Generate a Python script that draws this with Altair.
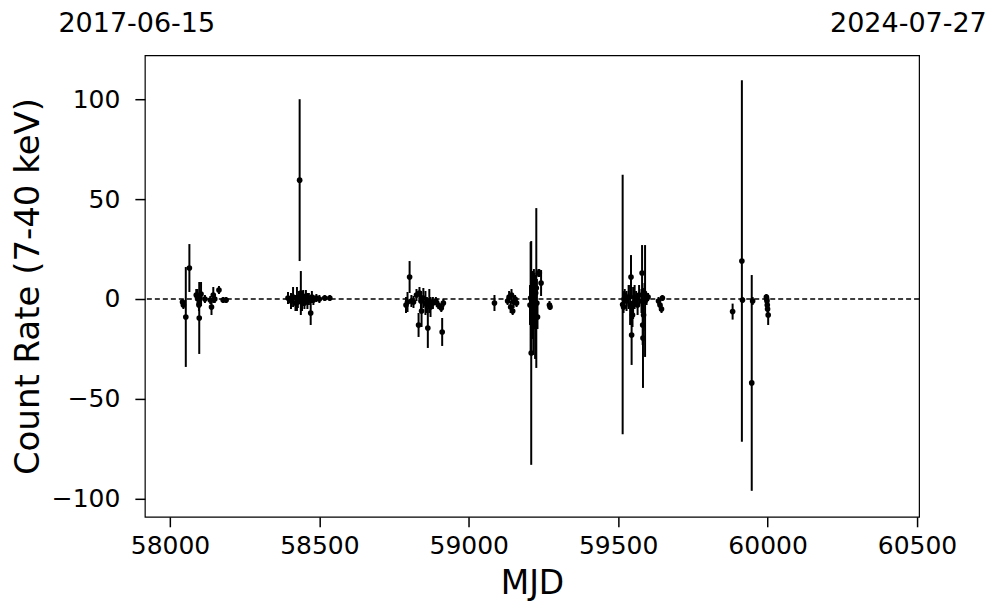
import altair as alt
import pandas as pd

# ---- data ----
mjd = [
    58042, 58045, 58053, 58065, 58088, 58092, 58097, 58098, 58100, 58104, 58117, 58135, 58139, 58145, 58150, 58164, 58178, 58188,
    58395, 58405, 58412, 58420, 58425, 58428, 58432, 58434, 58438, 58442, 58446, 58450, 58455, 58460, 58465, 58471, 58475, 58480, 58490, 58500, 58518, 58535,
    58790, 58795, 58802, 58808, 58815, 58825, 58832, 58835, 58840, 58842, 58848, 58855, 58860, 58863, 58868, 58872, 58880, 58890, 58898, 58908, 58911, 58915,
    59086, 59130, 59135, 59140, 59143, 59147, 59150, 59155, 59160,
    59205, 59207, 59209, 59212, 59214, 59216, 59218, 59220, 59222, 59224, 59226, 59228, 59230, 59233, 59236, 59242, 59270, 59272,
    59515, 59518, 59520, 59522, 59528, 59535, 59540, 59543, 59545, 59548, 59550, 59555, 59560, 59565, 59570, 59578, 59580, 59582, 59583, 59585, 59588, 59590, 59595, 59600, 59635, 59640, 59645, 59648,
    59883, 59914, 59916, 59947, 59950, 59996, 59997, 59998, 59999, 60000, 60002,
]
rate = [
    -1.5, -3, -9, 15.5, 2, 1, -3, -9.5, 0.5, 2.5, 0, -0.5, -4, 2, 0, 4.5, -0.5, -0.5,
    0.5, -1, 1, -2, 0, -1.5, 1, 59.5, 3, -1, 0.5, -2, 1.5, -1, 0, -7, 1, -0.5, 0.5, 0, 0.5, 0.5,
    -3, -1.5, 11, -1, -1.5, 2, -13, 3, -1, -6, 0.5, -2, -3, -14.5, -1, -4, -2, -1, -3, -4.5, -16.5, -2,
    -2, -1, 1, -4, 2, -6, -1.5, 0, -2,
    -3, 0.5, -27, 2, -5, -8, 5, -1, -12, 3, 5.5, -2, -9, 13, 13, 8, -3, -4,
    -2.75, -4, 0, 2, -1, 1, -3, 11, -18, -8, -2, 1, 0, -3, 2, -1, 13, -13, -19.5, -8, 3, -1, 0, 1, -1, -3, -5, 0.5,
    -6.3, 19, -0.5, -42, -1, 1, 0, -1, -3, -5, -8,
]
err = [
    1.5, 2, 25, 12, 3, 4, 3, 18, 2, 6, 2, 2, 4, 4, 2, 2, 1.5, 1.5,
    3, 4, 5, 4, 6, 3, 3, 40.5, 11, 5, 4, 3, 3, 4, 3, 6, 3, 2.5, 2, 2, 1.5, 1.5,
    4, 5, 8, 3, 3, 3, 6, 3, 5, 8, 5, 6, 4, 10, 6, 5, 3, 2, 2, 2, 7, 2,
    4, 2, 3, 3, 3, 2, 3, 2, 2,
    10, 28, 56, 12, 15, 20, 10, 14, 18, 9, 40, 12, 6, 2, 2, 6.5, 2, 1.5,
    65, 3, 4, 3, 5, 6, 10, 11, 15, 6, 8, 6, 4, 5, 5, 6, 14, 10, 25, 8, 5, 28, 3, 2, 2, 3, 2, 1.5,
    4, 90.5, 1.5, 54, 2, 1.5, 1.5, 2, 2, 2.5, 5,
]
x_ticks = [58000, 58500, 59000, 59500, 60000, 60500]
y_ticks = [-100, -50, 0, 50, 100]
date_labels = ["2017-06-15", "2024-07-27"]
date_mjd = [57919, 60518]
date_dx = [-9, -14]

df = pd.DataFrame({"mjd": mjd, "rate": rate, "err": err})
df["lo"] = df["rate"] - df["err"]
df["hi"] = df["rate"] + df["err"]

FONT = "DejaVu Sans"
xscale = alt.Scale(domain=[57916, 60507], nice=False, zero=False)
yscale = alt.Scale(domain=[-109, 122], nice=False, zero=False)

xaxis = alt.Axis(values=x_ticks, format="d", title="MJD", grid=False)
yaxis = alt.Axis(values=y_ticks, title="Count Rate (7-40 keV)", grid=False)

base = alt.Chart(df)

bars = base.mark_rule(color="black", strokeWidth=2).encode(
    x=alt.X("mjd:Q", scale=xscale, axis=xaxis),
    y=alt.Y("lo:Q", scale=yscale, axis=yaxis),
    y2="hi:Q",
)
pts = base.mark_circle(color="black", opacity=1, size=32).encode(
    x=alt.X("mjd:Q", scale=xscale),
    y=alt.Y("rate:Q", scale=yscale),
)
zero = alt.Chart(pd.DataFrame({"y": [0]})).mark_rule(
    color="black", strokeDash=[5, 3], strokeWidth=1.5
).encode(y=alt.Y("y:Q", scale=yscale))

labels_df = pd.DataFrame({"t": date_labels, "m": date_mjd})
lab_left = alt.Chart(labels_df.iloc[[0]]).mark_text(
    font=FONT, fontSize=27, color="black", baseline="middle", align="center", dx=date_dx[0]
).encode(x=alt.X("m:Q", scale=xscale), y=alt.value(-31), text="t:N")
lab_right = alt.Chart(labels_df.iloc[[1]]).mark_text(
    font=FONT, fontSize=27, color="black", baseline="middle", align="center", dx=date_dx[1]
).encode(x=alt.X("m:Q", scale=xscale), y=alt.value(-31), text="t:N")

chart = (
    alt.layer(zero, bars, pts, lab_left, lab_right)
    .properties(
        width=775,
        height=462,
        autosize=alt.AutoSizeParams(type="none"),
        padding={"left": 137, "top": 47, "right": 70, "bottom": 88},
    )
    .configure_view(stroke="black", strokeWidth=1.2)
    .configure_axis(
        domain=False,
        ticks=True,
        tickColor="black",
        tickSize=10,
        tickWidth=1.5,
        labelFont=FONT,
        labelFontSize=25,
        labelColor="black",
        titleFont=FONT,
        titleFontWeight="normal",
        titleColor="black",
    )
    .configure_axisX(labelPadding=7, titlePadding=9, titleFontSize=33)
    .configure_axisY(labelPadding=15, titlePadding=6, titleFontSize=34)
)

chart.save("out.html", embed_options={"renderer": "svg", "actions": False})
